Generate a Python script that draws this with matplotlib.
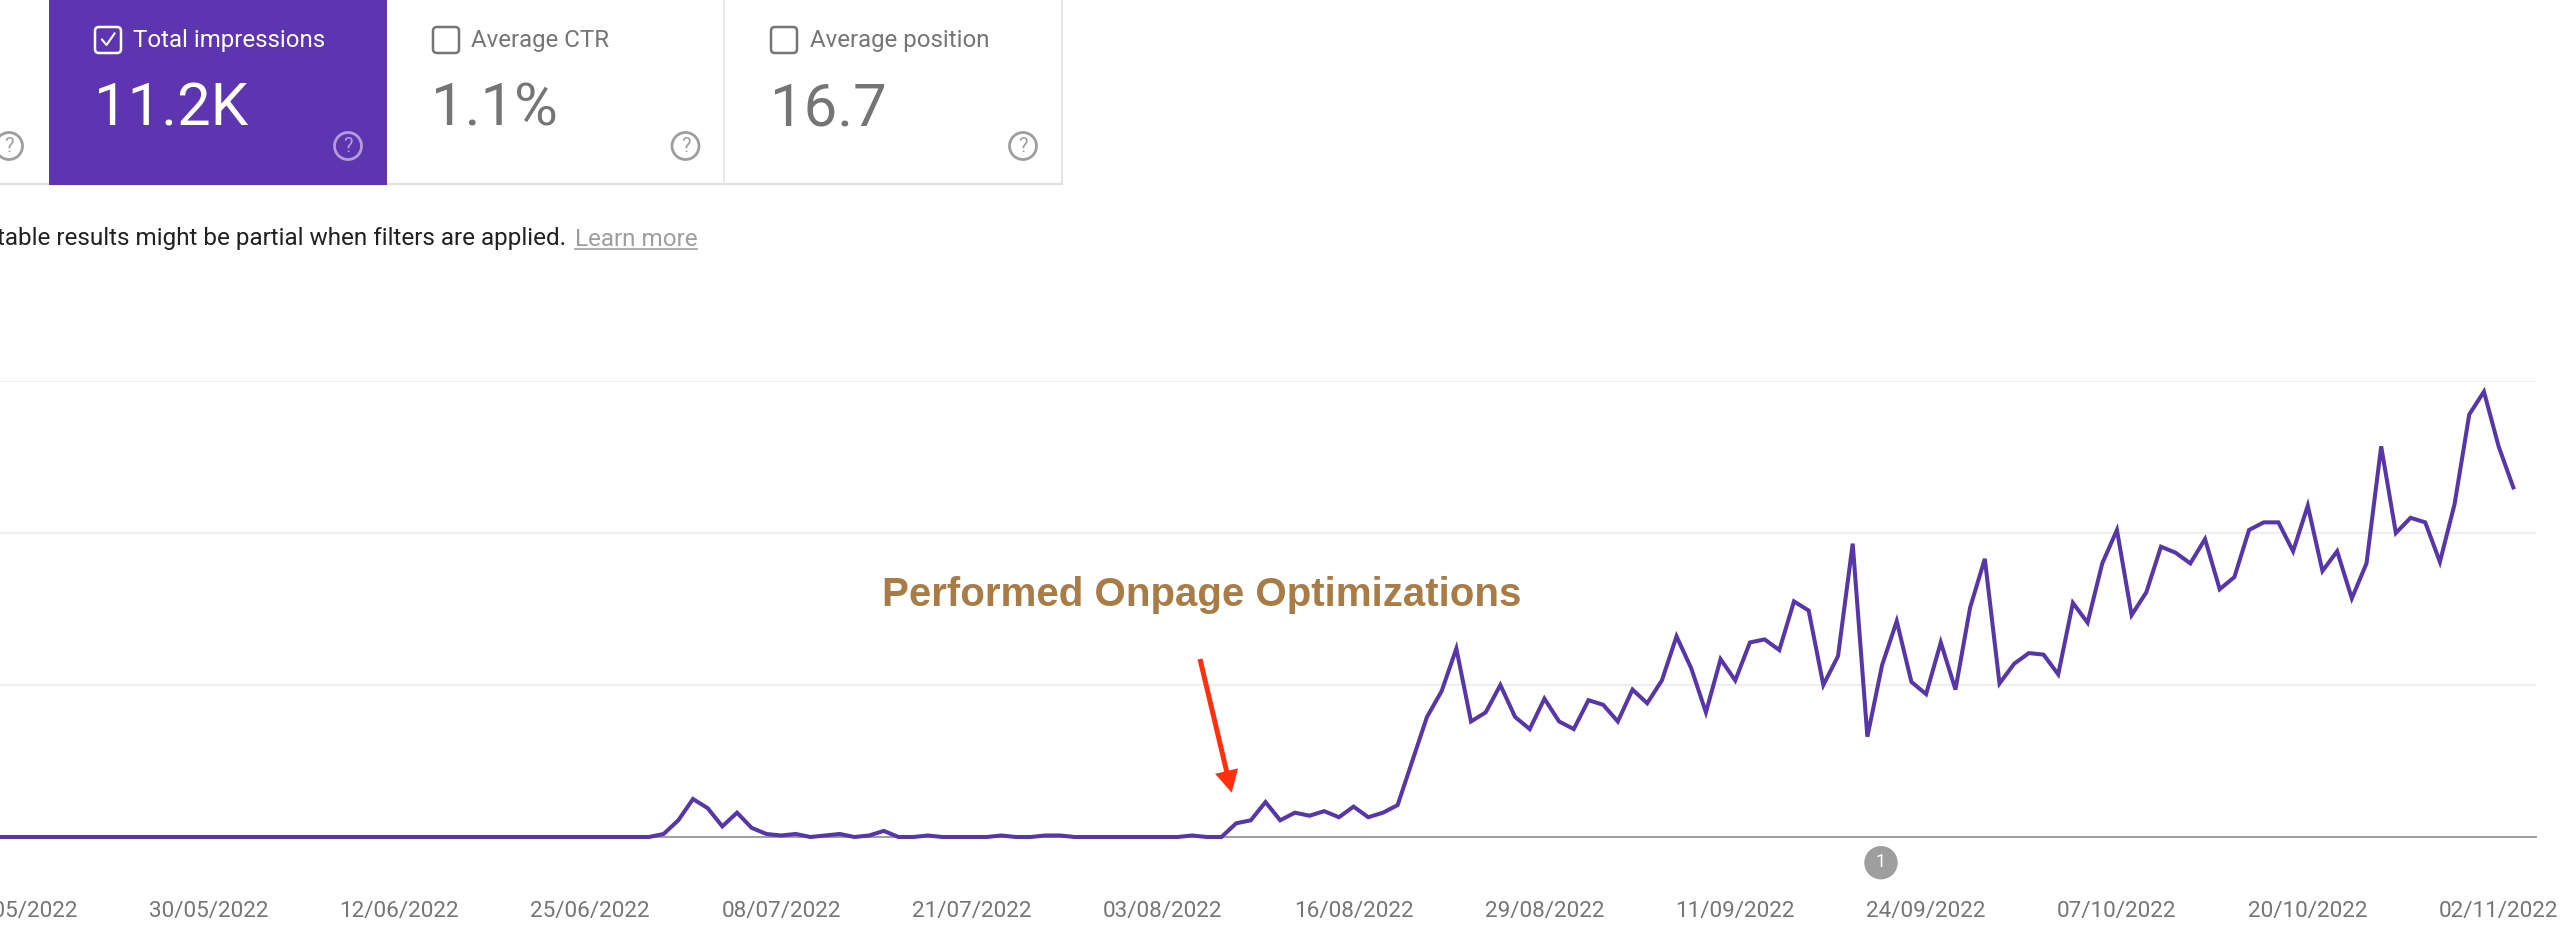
import matplotlib
matplotlib.use("Agg")
import matplotlib.pyplot as plt
import matplotlib.dates as mdates
from matplotlib.patches import Rectangle, FancyBboxPatch, Circle
import pandas as pd

plt.rcParams['font.family'] = ['Roboto', 'DejaVu Sans']

# Daily impressions, 15/05/2022 to 03/11/2022
impressions = [
    0, 0, 0, 0, 0, 0, 0, 0, 0, 0, 0, 0, 0, 0, 0, 0, 0, 0, 0, 0, 0, 0, 0,
    0, 0, 0, 0, 0, 0, 0, 0, 0, 0, 0, 0, 0, 0, 0, 0, 0, 0, 0, 0, 0, 0, 0,
    2, 11, 25, 19, 7, 16, 6, 2, 1, 2, 0, 1, 2, 0, 1, 4, 0, 0, 1, 0, 0, 0, 0,
    1, 0, 0, 1, 1, 0, 0, 0, 0, 0, 0, 0, 0, 1, 0, 0,
    9, 11, 23, 11, 16, 14, 17, 13, 20, 13, 16, 21, 50, 79, 96, 124, 76, 82,
    100, 79, 71, 91, 76, 71, 90, 87, 76, 97, 88, 103, 132,
    111, 82, 117, 103, 128, 130, 123, 155, 149, 100, 119, 193, 66, 113, 142,
    102, 94, 128, 97, 151, 183, 101, 114, 121, 120, 107, 154, 141, 180,
    202, 146, 161, 191, 187, 180, 196, 163, 171, 202, 207, 207, 188, 218, 175,
    188, 157, 180, 257, 200, 210, 207, 181, 219, 278, 293, 257, 230,
]
dates = pd.date_range("2022-05-15", periods=len(impressions), freq="D")

tick_labels = ["17/05/2022", "30/05/2022", "12/06/2022", "25/06/2022", "08/07/2022",
               "21/07/2022", "03/08/2022", "16/08/2022", "29/08/2022", "11/09/2022",
               "24/09/2022", "07/10/2022", "20/10/2022", "02/11/2022"]
y_ticks = [100, 200, 300]

card_titles = ["Total impressions", "Average CTR", "Average position"]
card_values = ["11.2K", "1.1%", "16.7"]

W, H = 2560, 942
PURPLE = "#5e35b1"
GREY = "#757575"
PX_PER_DAY = 14.68

fig = plt.figure(figsize=(W / 100, H / 100), dpi=100, facecolor="white")

# Main chart, axes box placed in pixels
ax = fig.add_axes([0, (H - 837) / H, 2536 / W, (837 - 381) / H])
last_day = mdates.date2num(pd.Timestamp("2022-11-03"))
ax.set_xlim(last_day - 2513.3 / PX_PER_DAY, last_day + (2536 - 2513.3) / PX_PER_DAY)
ax.set_ylim(0, 300)

ax.plot(mdates.date2num(dates), impressions, color="#5636a9", lw=2.9,
        solid_joinstyle="miter", zorder=3, clip_on=False)

for s in ax.spines.values():
    s.set_visible(False)
ax.spines['bottom'].set_visible(True)
ax.spines['bottom'].set_color("#9e9e9e")
ax.spines['bottom'].set_linewidth(1.4)

ax.set_yticks(y_ticks)
ax.tick_params(axis='y', left=False, labelleft=False)
ax.grid(axis='y', color="#ebebeb", lw=1.2)
ax.set_axisbelow(True)

tick_pos = [mdates.date2num(pd.to_datetime(t, format="%d/%m/%Y")) for t in tick_labels]
ax.set_xticks(tick_pos)
ax.set_xticklabels(tick_labels, fontsize=16.2, color=GREY)
ax.tick_params(axis='x', length=0, pad=46)

# Overlay in pixel coordinates for the cards and the notes
ov = fig.add_axes([0, 0, 1, 1], zorder=5)
ov.set_xlim(0, W)
ov.set_ylim(H, 0)
ov.axis("off")
ov.patch.set_alpha(0)

# Cards
ov.add_patch(Rectangle((48.5, 0), 338, 185, color=PURPLE, lw=0, zorder=2))
ov.plot([0, 1062], [184, 184], color="#e0e0e0", lw=1.6, zorder=1)
ov.plot([723.5, 723.5], [0, 184], color="#e6e6e6", lw=1.2, zorder=1)
ov.plot([1062, 1062], [0, 184], color="#e0e0e0", lw=1.2, zorder=1)

box_x = [95, 433, 771]
title_x = [133, 471, 809.5]
value_x = [94, 431, 770]
help_x = [348, 685.5, 1023]
for i in range(3):
    col = "white" if i == 0 else GREY
    ov.add_patch(FancyBboxPatch((box_x[i] + 3, 30), 20, 20, boxstyle="round,pad=3,rounding_size=4",
                                fc="none", ec=col, lw=1.8, zorder=3))
    ov.text(title_x[i], 40, card_titles[i], color=col, fontsize=17.3, va="center", zorder=3)
    ov.text(value_x[i], 125, card_values[i], color=col, fontsize=43, fontweight="normal",
            va="baseline", zorder=3)
    help_col = "#b39ddb" if i == 0 else "#9e9e9e"
    ov.add_patch(Circle((help_x[i], 146), 13.5, fc="none", ec=help_col, lw=2, zorder=3))
    ov.text(help_x[i], 146.5, "?", color=help_col, fontsize=14.5, ha="center", va="center", zorder=3)

# Check mark in the first box
ov.plot([102, 106.5, 114.5], [39.5, 45, 33.5], color="white", lw=1.5, zorder=4)

# Help icon of the card cut off on the left
ov.add_patch(Circle((9, 146), 13.5, fc="none", ec="#9e9e9e", lw=2, zorder=3))
ov.text(9, 146.5, "?", color="#9e9e9e", fontsize=14.5, ha="center", va="center", zorder=3)

# Note under the cards
ov.text(566, 239, "table results might be partial when filters are applied.",
        color="#212121", fontsize=17.5, ha="right", va="center")
ov.text(575, 239, "Learn more", color="#9e9e9e", fontsize=17.5, va="center")
ov.plot([575, 697], [249, 249], color="#9e9e9e", lw=1.2)

# Annotation and arrow
ov.text(882, 594.5, "Performed Onpage Optimizations", color="#a97c46", fontsize=29,
        fontweight="bold", family="Liberation Sans", va="center")
ov.annotate("", xy=(1231.7, 792.7), xytext=(1200, 659),
            arrowprops=dict(width=3.6, headwidth=17, headlength=16, shrink=0,
                            fc="#ff3010", ec="none"))

# Annotation badge under the axis
ov.add_patch(Circle((1881, 862.7), 16.7, fc="#9e9e9e", ec="none"))
ov.text(1881, 862, "1", color="white", fontsize=13, ha="center", va="center")

fig.savefig("out.png", dpi=100, facecolor="white")
